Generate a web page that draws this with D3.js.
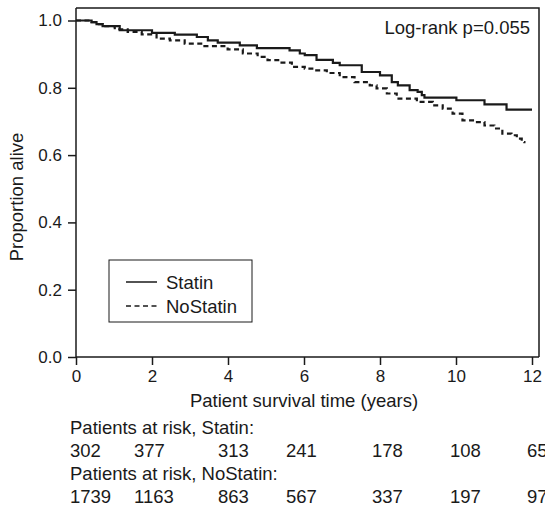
<!DOCTYPE html>
<html>
<head>
<meta charset="utf-8">
<script src="https://cdn.jsdelivr.net/npm/d3@7"></script>
<style>
  body { margin: 0; background: #fff; }
  svg { display: block; font-family: "Liberation Sans", Arial, sans-serif; }
  text { fill: #1a1a1a; }
</style>
</head>
<body>
<div id="chart"></div>
<script>
// ---- data ----
const statinTime = [0, 0.41, 0.54, 0.70, 1.15, 2.0, 2.6, 3.18, 3.47, 3.73, 4.31, 4.76, 5.62, 5.89, 6.02, 6.33, 6.76, 6.94, 7.52, 8.0, 8.31, 8.47, 8.78, 8.99, 9.10, 9.17, 10.01, 10.75, 11.33, 12.0];
const statinSurv = [1.0, 0.995, 0.989, 0.983, 0.971, 0.963, 0.958, 0.951, 0.941, 0.934, 0.926, 0.918, 0.911, 0.902, 0.897, 0.883, 0.874, 0.867, 0.847, 0.837, 0.817, 0.807, 0.793, 0.788, 0.778, 0.771, 0.763, 0.751, 0.735, 0.735];

const noStatinTime = [0, 0.41, 0.54, 0.70, 1.02, 1.36, 1.73, 2.12, 2.47, 2.86, 3.38, 3.99, 4.39, 4.78, 5.04, 5.36, 5.68, 6.02, 6.28, 6.6, 6.94, 7.33, 7.73, 7.91, 8.18, 8.44, 8.97, 9.39, 9.65, 9.91, 10.17, 10.49, 10.75, 11.01, 11.22, 11.46, 11.6, 11.73, 11.8];
const noStatinSurv = [1.0, 0.995, 0.989, 0.983, 0.974, 0.966, 0.959, 0.946, 0.941, 0.931, 0.924, 0.914, 0.902, 0.892, 0.882, 0.875, 0.862, 0.857, 0.852, 0.844, 0.832, 0.817, 0.807, 0.798, 0.783, 0.768, 0.758, 0.748, 0.738, 0.723, 0.703, 0.698, 0.688, 0.679, 0.664, 0.659, 0.649, 0.639, 0.635];

const xTicks = [0, 2, 4, 6, 8, 10, 12];
const yTicks = [0, 0.2, 0.4, 0.6, 0.8, 1.0];

const riskTimes = [0, 2, 4, 6, 8, 10, 12];
const statinRisk = [302, 377, 313, 241, 178, 108, 65];
const noStatinRisk = [1739, 1163, 863, 567, 337, 197, 97];

// ---- layout ----
const width = 545, height = 515;
const plot = { left: 76, right: 532, top: 8, bottom: 357, frameRight: 539 };
const ink = "#1a1a1a";

const svg = d3.select("#chart").append("svg")
  .attr("width", width).attr("height", height);

const x = d3.scaleLinear().domain([0, 12]).range([plot.left, plot.right]);
const y = d3.scaleLinear().domain([0, 1]).range([plot.bottom, 20.5]);

// frame (top + right)
svg.append("path")
  .attr("d", `M${plot.left},${plot.top}H${plot.frameRight}V${plot.bottom}`)
  .attr("fill", "none").attr("stroke", ink).attr("stroke-width", 1.5);

// axes
const xAxis = d3.axisBottom(x).tickValues(xTicks).tickSize(8).tickPadding(5)
  .tickFormat(d3.format("d")).tickSizeOuter(0);
const yAxis = d3.axisLeft(y).tickValues(yTicks).tickSize(8).tickPadding(6)
  .tickFormat(d3.format(".1f")).tickSizeOuter(0);

const gx = svg.append("g").attr("transform", `translate(0,${plot.bottom})`).call(xAxis);
gx.select(".domain").attr("d", `M${plot.left},0H${plot.frameRight}`);
const gy = svg.append("g").attr("transform", `translate(${plot.left},0)`).call(yAxis);
gy.select(".domain").attr("d", `M0,${plot.top}V${plot.bottom}`);

svg.selectAll(".domain, .tick line").attr("stroke", ink).attr("stroke-width", 1.5);
svg.selectAll(".tick text").attr("font-size", 17).attr("fill", ink)
  .attr("font-family", "Liberation Sans, Arial, sans-serif");

// axis titles
svg.append("text")
  .attr("x", x(6)).attr("y", 407)
  .attr("text-anchor", "middle").attr("font-size", 18.5)
  .text("Patient survival time (years)");

svg.append("text")
  .attr("transform", `translate(23,197) rotate(-90)`)
  .attr("text-anchor", "middle").attr("font-size", 18.5)
  .text("Proportion alive");

// survival curves
const step = d3.line().curve(d3.curveStepAfter)
  .x((d) => x(d[0])).y((d) => y(d[1]));

svg.append("path")
  .datum(d3.zip(noStatinTime, noStatinSurv))
  .attr("d", step).attr("fill", "none")
  .attr("stroke", ink).attr("stroke-width", 2.2)
  .attr("stroke-dasharray", "5,3.5");

svg.append("path")
  .datum(d3.zip(statinTime, statinSurv))
  .attr("d", step).attr("fill", "none")
  .attr("stroke", ink).attr("stroke-width", 2.2);

// log-rank
svg.append("text")
  .attr("x", 530).attr("y", 34)
  .attr("text-anchor", "end").attr("font-size", 18.5)
  .text("Log-rank p=0.055");

// legend
const legend = svg.append("g").attr("transform", "translate(109,260)");
legend.append("rect")
  .attr("width", 143).attr("height", 62)
  .attr("fill", "#fff").attr("stroke", ink).attr("stroke-width", 1);
[["Statin", null], ["NoStatin", "5,3.5"]].forEach(([name, dash], i) => {
  const cy = 22 + i * 24;
  legend.append("line")
    .attr("x1", 17).attr("x2", 48).attr("y1", cy).attr("y2", cy)
    .attr("stroke", ink).attr("stroke-width", 1.5)
    .attr("stroke-dasharray", dash);
  legend.append("text")
    .attr("x", 57).attr("y", cy + 6.5).attr("font-size", 18.5)
    .text(name);
});

// patients at risk table (the last column runs off the right edge, as in the source)
const colX = [70, 134, 218, 286, 372, 450, 527];
const rows = [
  { label: "Patients at risk, Statin:", values: statinRisk },
  { label: "Patients at risk, NoStatin:", values: noStatinRisk }
];
rows.forEach((r, i) => {
  const base = 434 + i * 46;
  svg.append("text").attr("x", colX[0]).attr("y", base)
    .attr("font-size", 18.5).text(r.label);
  svg.append("g").selectAll("text")
    .data(r.values)
    .join("text")
    .attr("x", (d, j) => colX[j])
    .attr("y", base + 23)
    .attr("font-size", 18.5)
    .text((d) => d);
});
</script>
</body>
</html>
